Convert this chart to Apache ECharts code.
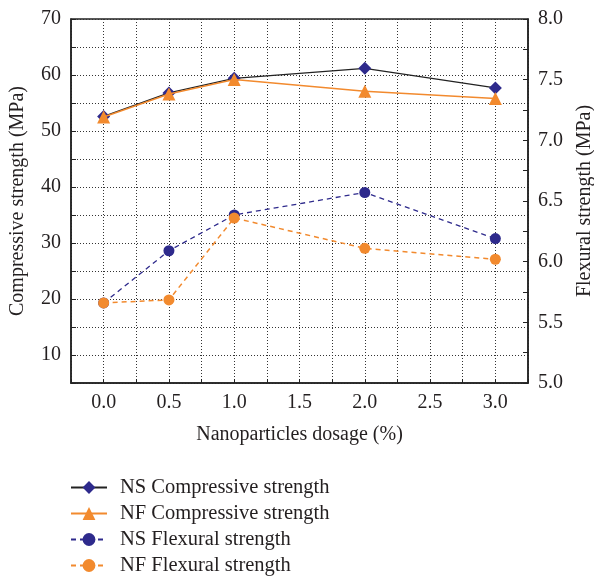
<!DOCTYPE html>
<html><head><meta charset="utf-8">
<script src="https://cdn.jsdelivr.net/npm/echarts@6/dist/echarts.min.js"></script>
<style>html,body{margin:0;padding:0;background:#fff}#c{width:594px;height:586px}</style>
</head><body><div id="c"></div>
<script>
const dosage = [0.0, 0.5, 1.0, 2.0, 3.0];
const nsCompressive = [52.6, 56.8, 59.4, 61.2, 57.7];
const nfCompressive = [52.5, 56.6, 59.2, 57.1, 55.8];
const nsFlexural = [5.66, 6.09, 6.385, 6.57, 6.19];
const nfFlexural = [5.66, 5.685, 6.36, 6.11, 6.02];
const seriesNames = ['NS Compressive strength', 'NF Compressive strength', 'NS Flexural strength', 'NF Flexural strength'];

const FONT = 'Liberation Serif';
const FS = 20;
const TXT = '#231f20';
const BLUE = '#2e2a8c';
const ORANGE = '#f28a2e';
const pairs = arr => dosage.map((d, i) => [d, arr[i]]);

const chart = echarts.init(document.getElementById('c'), null, {renderer: 'canvas'});
chart.setOption({
  animation: false,
  textStyle: {fontFamily: FONT, color: TXT},
  grid: {left: 71, right: 66, top: 19, bottom: 203, outerBoundsMode: 'none', containLabel: false,
    show: true, borderColor: '#222', borderWidth: 1.5, backgroundColor: 'transparent'},
  legend: {
    orient: 'vertical', left: 70, top: 477, padding: 0, itemWidth: 36, itemHeight: 16, itemGap: 5,
    textStyle: {fontFamily: FONT, fontSize: 20.5, color: TXT, padding: [0, 0, 0, 8]},
    data: seriesNames
  },
  xAxis: {
    type: 'value', min: -0.25, max: 3.25, interval: 0.25,
    name: 'Nanoparticles dosage (%)', nameLocation: 'middle', nameGap: 42,
    nameTextStyle: {fontFamily: FONT, fontSize: FS, color: TXT},
    axisLine: {show: true, onZero: false, lineStyle: {color: '#222', width: 1.5}},
    axisTick: {show: true, inside: true, length: 4, lineStyle: {color: '#222'}},
    axisLabel: {fontFamily: FONT, fontSize: FS, color: TXT, margin: 10,
      formatter: v => (Math.abs(v * 2 - Math.round(v * 2)) < 1e-6 && v >= 0 && v <= 3) ? v.toFixed(1) : ''},
    splitLine: {show: true, lineStyle: {color: '#333', type: [1, 2], width: 1}}
  },
  yAxis: [
    {
      type: 'value', min: 5, max: 70, interval: 5,
      name: 'Compressive strength (MPa)', nameLocation: 'middle', nameGap: 43,
      nameTextStyle: {fontFamily: FONT, fontSize: FS, color: TXT},
      axisLine: {show: true, onZero: false, lineStyle: {color: '#222', width: 1.5}},
      axisTick: {show: true, inside: true, length: 5, lineStyle: {color: '#222'}},
      axisLabel: {fontFamily: FONT, fontSize: FS, color: TXT, margin: 10,
        formatter: v => (v % 10 === 0) ? String(v) : ''},
      splitLine: {show: true, lineStyle: {color: '#333', type: [1, 2], width: 1}}
    },
    {
      type: 'value', min: 5, max: 8, interval: 0.25,
      name: 'Flexural strength (MPa)', nameLocation: 'middle', nameGap: 47, nameRotate: 90,
      nameTextStyle: {fontFamily: FONT, fontSize: FS, color: TXT},
      axisLine: {show: true, onZero: false, lineStyle: {color: '#222', width: 1.5}},
      axisTick: {show: true, inside: true, length: 5, lineStyle: {color: '#222'}},
      axisLabel: {fontFamily: FONT, fontSize: FS, color: TXT, margin: 10,
        formatter: v => (Math.abs(v * 2 - Math.round(v * 2)) < 1e-6) ? v.toFixed(1) : ''},
      splitLine: {show: false}
    }
  ],
  series: [
    {name: seriesNames[0], type: 'line', yAxisIndex: 0, data: pairs(nsCompressive),
      symbol: 'diamond', symbolSize: 13, itemStyle: {color: BLUE}, lineStyle: {color: '#222', width: 1.3}, z: 3},
    {name: seriesNames[1], type: 'line', yAxisIndex: 0, data: pairs(nfCompressive),
      symbol: 'triangle', symbolSize: 13, itemStyle: {color: ORANGE}, lineStyle: {color: ORANGE, width: 1.5}, z: 4},
    {name: seriesNames[2], type: 'line', yAxisIndex: 1, data: pairs(nsFlexural),
      symbol: 'circle', symbolSize: 11, itemStyle: {color: BLUE}, lineStyle: {color: BLUE, width: 1.3, type: [5, 4]}, z: 3},
    {name: seriesNames[3], type: 'line', yAxisIndex: 1, data: pairs(nfFlexural),
      symbol: 'circle', symbolSize: 11, itemStyle: {color: ORANGE}, lineStyle: {color: ORANGE, width: 1.5, type: [5, 4]}, z: 4}
  ]
});
</script></body></html>
